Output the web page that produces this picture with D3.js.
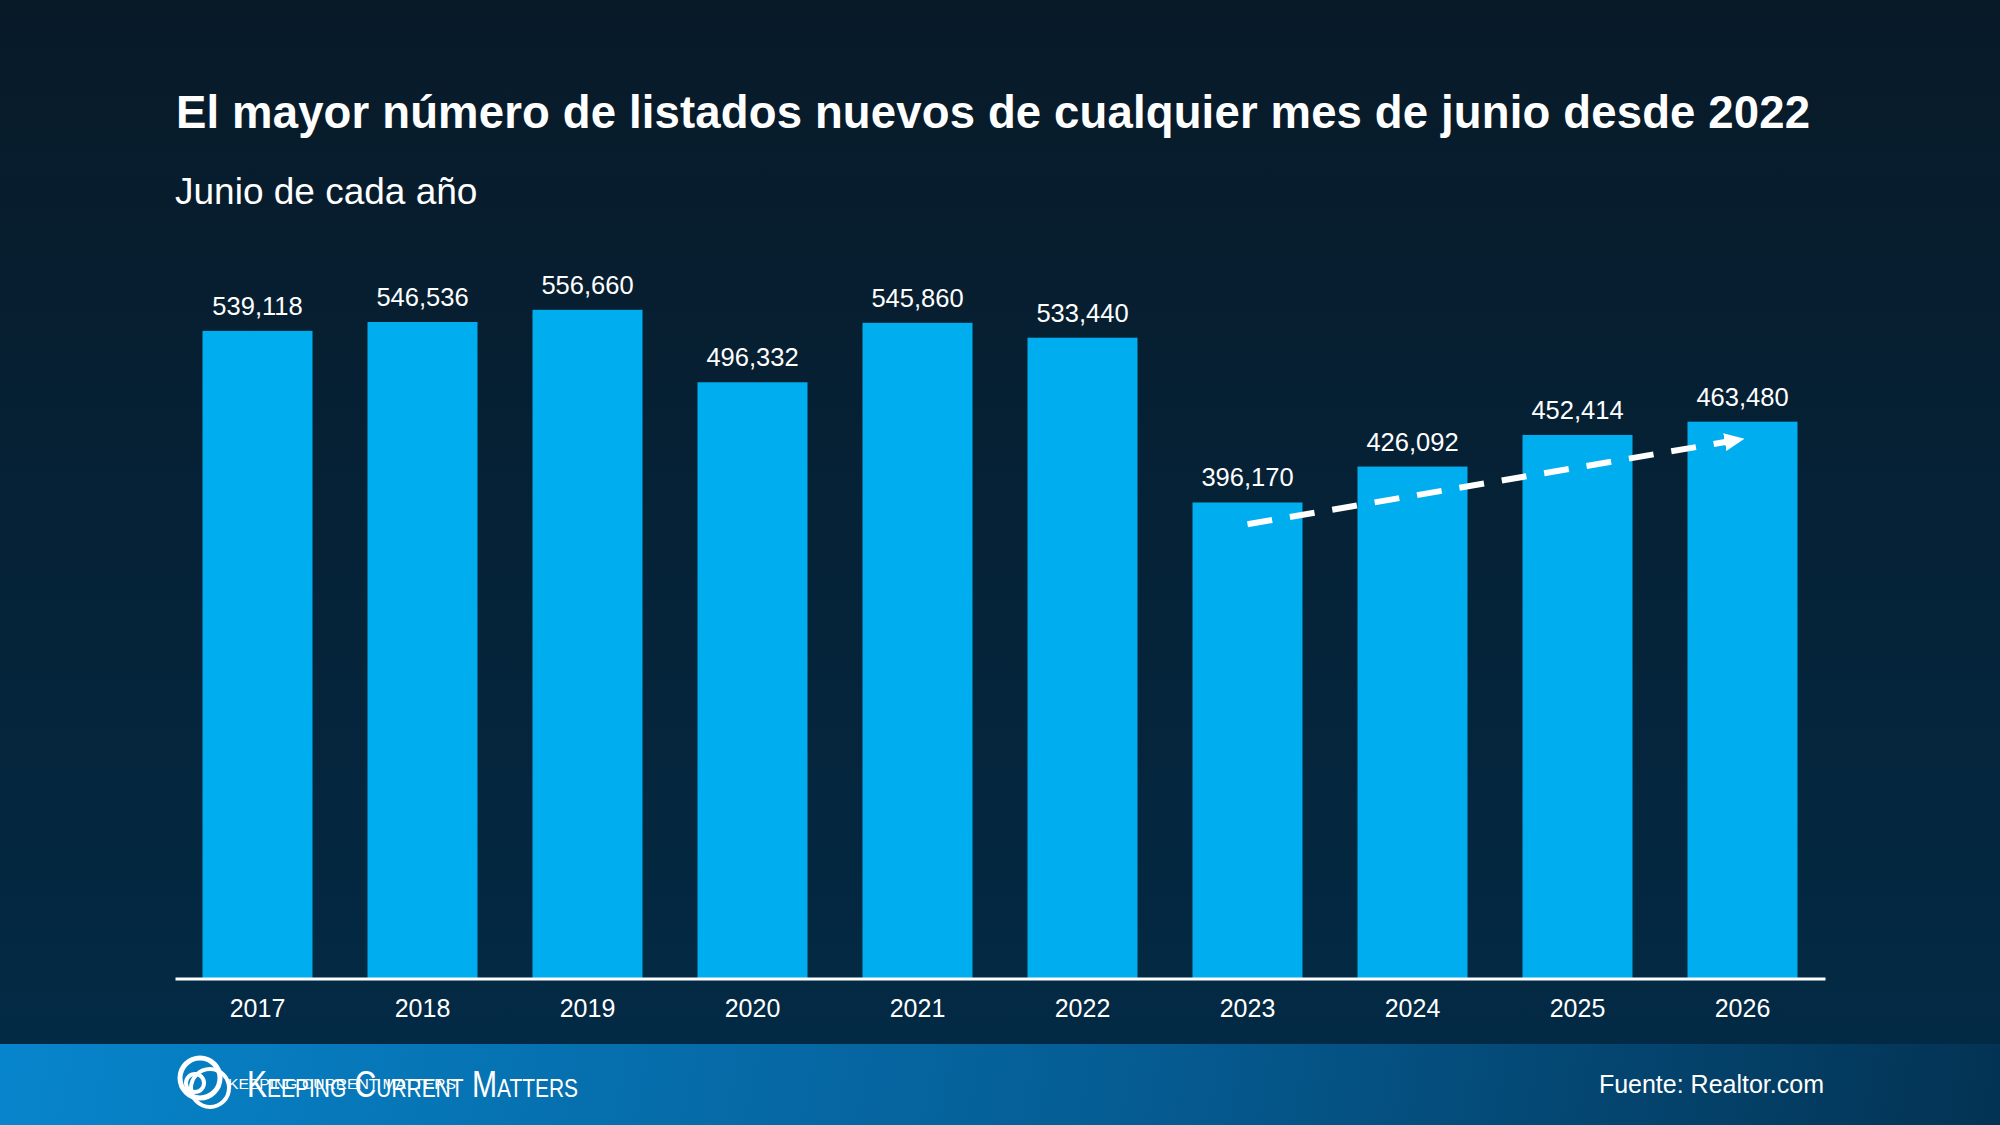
<!DOCTYPE html>
<html>
<head>
<meta charset="utf-8">
<script src="https://cdn.jsdelivr.net/npm/d3@7"></script>
<style>
  html, body { margin: 0; padding: 0; background: #06202f; }
  svg { display: block; }
  text { font-family: 'Liberation Sans', Arial, sans-serif; fill: #fff; }
</style>
</head>
<body>
<div id="chart-area"></div>
<script>
(() => {

  const years = ['2017', '2018', '2019', '2020', '2021', '2022', '2023', '2024', '2025', '2026'];
  const listings = [539118, 546536, 556660, 496332, 545860, 533440, 396170, 426092, 452414, 463480];
  // dashed trend arrow, from 2023 to 2026
  const trendYears = ['2023', '2026'];
  const trendValues = [378000, 449000];

  const title = 'El mayor número de listados nuevos de cualquier mes de junio desde 2022';
  const subtitle = 'Junio de cada año';
  const source = 'Fuente: Realtor.com';

  const widthSvg = 2000;
  const heightSvg = 1125;
  const baseline = 978;
  const footerTop = 1044;

  const data = years.map((year, i) => ({ year, value: listings[i] }));

  const svg = d3.select('#chart-area')
    .append('svg')
      .attr('width', widthSvg)
      .attr('height', heightSvg);

  const defs = svg.append('defs');

  const bgGrad = defs.append('linearGradient')
    .attr('id', 'bg')
    .attr('x1', 0).attr('y1', 0)
    .attr('x2', 0).attr('y2', 1);
  bgGrad.append('stop').attr('offset', '0%').attr('stop-color', '#081a28');
  bgGrad.append('stop').attr('offset', '100%').attr('stop-color', '#032a45');

  const footGrad = defs.append('linearGradient')
    .attr('id', 'foot')
    .attr('gradientUnits', 'userSpaceOnUse')
    .attr('x1', 0).attr('y1', footerTop)
    .attr('x2', 2000).attr('y2', heightSvg + 300);
  footGrad.append('stop').attr('offset', '0%').attr('stop-color', '#0785cc');
  footGrad.append('stop').attr('offset', '55%').attr('stop-color', '#055c93');
  footGrad.append('stop').attr('offset', '100%').attr('stop-color', '#03304f');

  defs.append('marker')
    .attr('id', 'arrow-head')
    .attr('markerUnits', 'userSpaceOnUse')
    .attr('viewBox', '0 -10 20 20')
    .attr('refX', 18)
    .attr('refY', 0)
    .attr('markerWidth', 20)
    .attr('markerHeight', 20)
    .attr('orient', 'auto')
    .append('path')
      .attr('d', 'M0,-9L20,0L0,9Z')
      .attr('fill', '#fff');

  svg.append('rect')
    .attr('width', widthSvg)
    .attr('height', footerTop)
    .attr('fill', 'url(#bg)');

  svg.append('rect')
    .attr('y', footerTop)
    .attr('width', widthSvg)
    .attr('height', heightSvg - footerTop)
    .attr('fill', 'url(#foot)');

  // titles
  svg.append('text')
    .attr('x', 176)
    .attr('y', 128)
    .attr('font-size', '45.5px')
    .attr('font-weight', 'bold')
    .attr('textLength', 1634)
    .attr('lengthAdjust', 'spacing')
    .text(title);

  svg.append('text')
    .attr('x', 175)
    .attr('y', 204)
    .attr('font-size', '37px')
    .text(subtitle);

  // scales
  const scaleX = d3.scaleBand()
    .domain(years)
    .range([175, 1825])
    .paddingInner(1 / 3)
    .paddingOuter(1 / 6);

  const scaleY = d3.scaleLinear()
    .domain([0, 600000])
    .range([baseline, baseline - 600000 * 0.0012003]);

  // bars
  svg.append('g')
    .selectAll('rect')
    .data(data)
    .enter()
    .append('rect')
      .attr('x', d => scaleX(d.year))
      .attr('y', d => scaleY(d.value))
      .attr('width', scaleX.bandwidth())
      .attr('height', d => baseline - scaleY(d.value))
      .attr('fill', '#00adee');

  svg.append('g')
    .selectAll('text')
    .data(data)
    .enter()
    .append('text')
      .attr('x', d => scaleX(d.year) + scaleX.bandwidth() / 2)
      .attr('y', d => scaleY(d.value) - 16)
      .attr('text-anchor', 'middle')
      .attr('font-size', '25.5px')
      .text(d => d3.format(',')(d.value));

  // x axis
  const axisX = d3.axisBottom(scaleX)
    .tickSize(0)
    .tickSizeOuter(0)
    .tickPadding(21);

  const groupAxisX = svg.append('g')
    .attr('transform', `translate(0, ${baseline + 0.5})`)
    .call(axisX);

  groupAxisX.select('.domain')
    .attr('stroke', '#fff')
    .attr('stroke-width', 3);

  groupAxisX.selectAll('.tick text')
    .attr('fill', '#fff')
    .attr('font-size', '25px')
    .attr('font-family', "'Liberation Sans', Arial, sans-serif");

  // trend arrow
  const trend = trendYears.map((year, i) => [
    scaleX(year) + scaleX.bandwidth() / 2,
    scaleY(trendValues[i])
  ]);

  svg.append('path')
    .attr('d', d3.line()(trend))
    .attr('fill', 'none')
    .attr('stroke', '#fff')
    .attr('stroke-width', 6)
    .attr('stroke-dasharray', '25 18')
    .attr('marker-end', 'url(#arrow-head)');

  // footer
  const logo = svg.append('g');

  logo.append('circle')
    .attr('cx', 200).attr('cy', 1078).attr('r', 20)
    .attr('fill', 'none').attr('stroke', '#fff').attr('stroke-width', 5);
  logo.append('circle')
    .attr('cx', 210).attr('cy', 1088).attr('r', 19)
    .attr('fill', 'none').attr('stroke', '#fff').attr('stroke-width', 4);
  logo.append('circle')
    .attr('cx', 195).attr('cy', 1083).attr('r', 9)
    .attr('fill', 'none').attr('stroke', '#fff').attr('stroke-width', 4);

  logo.append('text')
    .attr('x', 228)
    .attr('y', 1089)
    .attr('font-size', '15px')
    .attr('textLength', 228)
    .attr('lengthAdjust', 'spacingAndGlyphs')
    .text('KEEPING CURRENT MATTERS');

  logo.append('text')
    .attr('x', 247)
    .attr('y', 1097)
    .attr('font-family', "'Open Sans', sans-serif")
    .attr('font-size', '36px')
    .style('font-variant', 'small-caps')
    .attr('textLength', 331)
    .attr('lengthAdjust', 'spacingAndGlyphs')
    .text('Keeping Current Matters');

  svg.append('text')
    .attr('x', 1824)
    .attr('y', 1093)
    .attr('text-anchor', 'end')
    .attr('font-size', '25px')
    .text(source);

})();
</script>
</body>
</html>
